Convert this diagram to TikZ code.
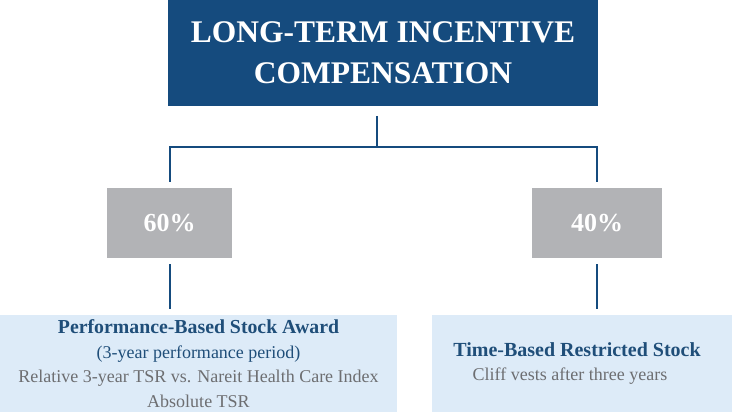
\documentclass[tikz,border=0pt]{standalone}
\usepackage{fontspec}
\setmainfont{Liberation Serif}
\usepackage{xcolor}
\usepackage{tikz}
\usetikzlibrary{positioning}

\definecolor{ltiblue}{RGB}{21,75,126}
\definecolor{pctgray}{RGB}{178,179,182}
\definecolor{planblue}{RGB}{221,235,248}
\definecolor{headblue}{RGB}{31,78,121}
\definecolor{notegray}{RGB}{109,110,113}

\begin{document}
\begin{tikzpicture}[%
  x=1pt,y=-1pt,
  title/.style={fill=ltiblue,text=white,inner sep=0pt,outer sep=0pt,align=center,
    minimum width=430pt,minimum height=106pt,font=\fontsize{31.5}{41}\selectfont\bfseries},
  pct/.style={fill=pctgray,text=white,inner sep=0pt,outer sep=0pt,
    minimum height=70pt,font=\fontsize{26}{30}\selectfont\bfseries},
  plan/.style={fill=planblue,inner sep=0pt,outer sep=0pt,align=center,
    minimum height=97pt,font=\fontsize{18}{24.5}\selectfont},
  link/.style={draw=ltiblue,line width=2pt}
]
  \useasboundingbox (0,0) rectangle (732,412);

  \node [title] (lti) at (383,53) {LONG-TERM INCENTIVE\\COMPENSATION};

  \node [pct,minimum width=125pt] (pct60) at (169.5,223) {60\%};
  \node [pct,minimum width=130pt] (pct40) at (597,223) {40\%};

  \node [plan,minimum width=397pt] (perf) at (198.5,363.5)
    {\textcolor{headblue}{\fontsize{19.8}{24.5}\selectfont\bfseries Performance-Based Stock Award}\\
     \textcolor{headblue}{(3-year performance period)}\\
     \textcolor{notegray}{Relative 3-year TSR vs. Nareit Health Care Index}\\
     \textcolor{notegray}{Absolute TSR}};
  \node [plan,minimum width=300pt] (time) at (582,363.5)
    {\hspace*{-10pt}\textcolor{headblue}{\fontsize{20}{24.5}\selectfont\bfseries Time-Based Restricted Stock}\\
     \hspace*{-24pt}\textcolor{notegray}{Cliff vests after three years}};

  \coordinate (fork) at (377,147);

  \draw [link,shorten <=10pt] (lti.south -| fork) -- (fork);
  \draw [link,shorten >=6pt] (fork) -| (pct60.north);
  \draw [link,shorten >=6pt] (fork) -| (pct40.north);
  \draw [link,shorten <=6pt,shorten >=6pt] (pct60.south) -- (pct60.south |- perf.north);
  \draw [link,shorten <=6pt,shorten >=6pt] (pct40.south) -- (pct40.south |- time.north);
\end{tikzpicture}
\end{document}
